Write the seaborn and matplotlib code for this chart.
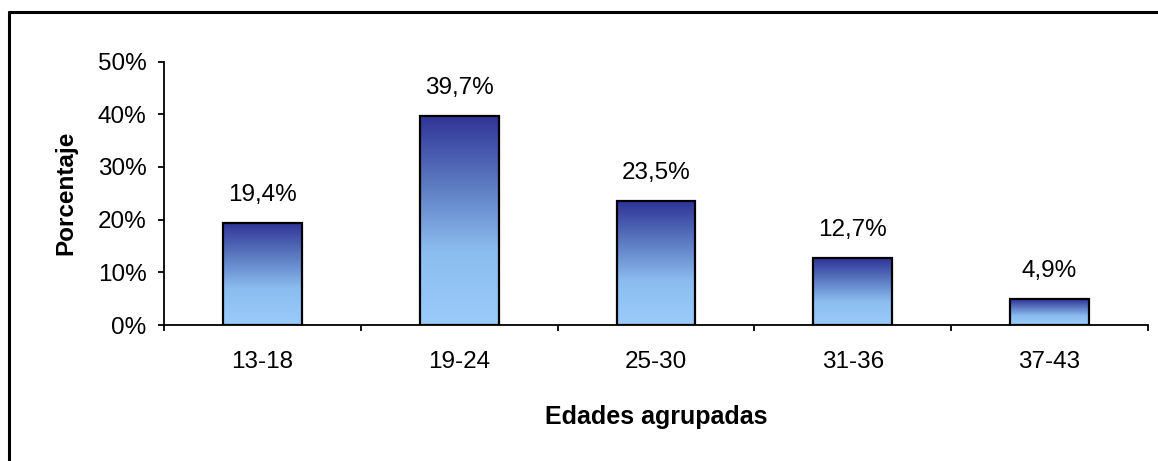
import numpy as np
import pandas as pd
import matplotlib
matplotlib.use("Agg")
import matplotlib.pyplot as plt
from matplotlib.colors import LinearSegmentedColormap
from matplotlib.lines import Line2D
import seaborn as sns

# Age groups and their share of respondents (%)
grupos = ["13-18", "19-24", "25-30", "31-36", "37-43"]
porcentajes = [19.4, 39.7, 23.5, 12.7, 4.9]
etiquetas = ["19,4%", "39,7%", "23,5%", "12,7%", "4,9%"]
yticks = [0, 10, 20, 30, 40, 50]
ytick_labels = ["0%", "10%", "20%", "30%", "40%", "50%"]

sns.set_theme(style="white")
plt.rcParams["font.family"] = ["Liberation Sans", "DejaVu Sans"]
plt.rcParams["text.color"] = "black"
plt.rcParams["axes.labelcolor"] = "black"
plt.rcParams["xtick.color"] = "black"
plt.rcParams["ytick.color"] = "black"

FS = 17.5

df = pd.DataFrame({"grupo": grupos, "pct": porcentajes})

fig = plt.figure(figsize=(11.58, 4.61), dpi=100)
ax = fig.add_axes([164 / 1158, 1 - 325 / 461, (1148 - 164) / 1158, (325 - 61.5) / 461])

sns.barplot(data=df, x="grupo", y="pct", ax=ax, width=0.4, color="#8fc3f5",
            edgecolor="black", linewidth=1.6, saturation=1)

# vertical gradient fill inside each bar: dark blue on top, light blue at the base
cmap = LinearSegmentedColormap.from_list(
    "grad", [(0.0, "#9acbfb"), (0.35, "#8cbdf0"), (0.65, "#5f7fc4"), (1.0, "#2f3397")])
grad = np.linspace(0, 1, 256).reshape(-1, 1)
for patch in ax.patches:
    x0, y0 = patch.get_x(), patch.get_y()
    w, h = patch.get_width(), patch.get_height()
    im = ax.imshow(grad, cmap=cmap, origin="lower", aspect="auto",
                   extent=[x0, x0 + w, y0, y0 + h], zorder=patch.get_zorder() - 0.1)
    im.set_clip_path(patch)
    patch.set_facecolor("none")
    patch.set_zorder(3)

for i, (v, lab) in enumerate(zip(porcentajes, etiquetas)):
    ax.annotate(lab, xy=(i, v), xytext=(0, 16), textcoords="offset points",
                ha="center", va="baseline", fontsize=FS, color="black")

ax.set_xlim(-0.5, len(grupos) - 0.5)
ax.set_ylim(0, 50)
ax.set_yticks(yticks)
ax.set_yticklabels(ytick_labels, fontsize=FS)

# tick marks on category boundaries, labels at category centres
ax.set_xticks(np.arange(-0.5, len(grupos), 1.0))
ax.set_xticklabels([""] * (len(grupos) + 1))
ax.set_xticks(np.arange(len(grupos)), minor=True)
ax.set_xticklabels(grupos, minor=True, fontsize=FS)
ax.tick_params(axis="x", which="major", bottom=True, direction="out", length=4.5, width=1.3)
ax.tick_params(axis="x", which="minor", bottom=True, length=0, pad=19)
ax.tick_params(axis="y", left=True, direction="out", length=4.5, width=1.3, pad=8)

ax.set_xlabel("Edades agrupadas", fontsize=18, fontweight="bold", labelpad=23)
ax.set_ylabel("Porcentaje", fontsize=FS, fontweight="bold", labelpad=15)

for side in ["top", "right"]:
    ax.spines[side].set_visible(False)
for side in ["left", "bottom"]:
    ax.spines[side].set_color("black")
    ax.spines[side].set_linewidth(1.3)

# chart frame (left and top edges)
fig.add_artist(Line2D([9 / 1158, 9 / 1158], [0, 1 - 12 / 461], color="black", lw=2.2,
                      transform=fig.transFigure))
fig.add_artist(Line2D([9 / 1158, 1], [1 - 12 / 461, 1 - 12 / 461], color="black", lw=2.2,
                      transform=fig.transFigure))

fig.savefig("out.png", dpi=100)
